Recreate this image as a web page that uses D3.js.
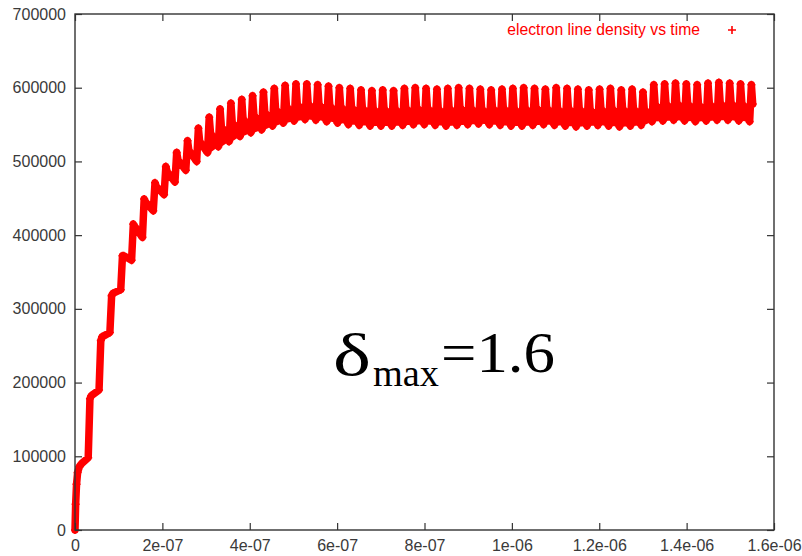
<!DOCTYPE html>
<html><head><meta charset="utf-8">
<script src="https://cdn.jsdelivr.net/npm/d3@7/dist/d3.min.js"></script>
<style>html,body{margin:0;padding:0;background:#fff;}svg{display:block;}</style>
</head><body>
<svg id="chart" width="802" height="556"></svg>
<script>
// ---------------- data ----------------
const xTicks = [0, 2e-7, 4e-7, 6e-7, 8e-7, 1e-6, 1.2e-6, 1.4e-6, 1.6e-6];
const xTickLabels = ["0", "2e-07", "4e-07", "6e-07", "8e-07", "1e-06", "1.2e-06", "1.4e-06", "1.6e-06"];
const yTicks = [0, 100000, 200000, 300000, 400000, 500000, 600000, 700000];
const yTickLabels = ["0", "100000", "200000", "300000", "400000", "500000", "600000", "700000"];
const legendLabel = "electron line density vs time";
const annotationSymbol = "δ";
const annotationSub = "max";
const annotationRest = "=1.6";

// initial build-up during the first bunch (time in ns, line density)
const initialTimesNs = [0, 1.5, 3.5, 6, 10, 15];
const initialValues = [0, 35000, 62000, 78000, 86000, 90000];

// later bunch passages (bunch 1 .. 62)
const firstBunchNs = 8.4;
const bunchSpacingNs = 24.82;
const bunchPhaseNs = [-3, 1, 4];   // trough, peak, post-peak sample times relative to each bunch
const troughValues = [
  98000, 190000, 268000, 326000, 366000, 397000, 433000, 455000, 472000, 488000,
  500000, 512000, 520000, 527000, 534000, 539000, 543000, 548000, 552000, 555000,
  557000, 556000, 554000, 552000, 550000, 549000, 548000, 548000, 548000, 549000,
  550000, 550000, 549000, 548000, 549000, 550000, 551000, 550000, 549000, 548000,
  548000, 549000, 550000, 549000, 548000, 547000, 548000, 549000, 548000, 547000,
  548000, 549000, 554000, 555000, 556000, 555000, 554000, 555000, 556000, 556000,
  555000, 554000];
const peakValues = [
  178000, 257000, 318000, 372000, 415000, 449000, 471000, 493000, 512000, 528000,
  545000, 560000, 571000, 579000, 584000, 589000, 594000, 599000, 603000, 605000,
  605000, 604000, 602000, 600000, 599000, 597000, 596000, 597000, 596000, 599000,
  600000, 599000, 598000, 599000, 600000, 599000, 598000, 597000, 598000, 599000,
  600000, 599000, 598000, 600000, 599000, 598000, 597000, 598000, 599000, 597000,
  598000, 594000, 604000, 605000, 606000, 605000, 604000, 606000, 607000, 606000,
  605000, 604000];
const postValues = [
  182000, 262000, 321000, 372000, 412000, 445000, 466000, 486000, 502000, 515000,
  527000, 538000, 547000, 553000, 558000, 563000, 567000, 571000, 575000, 578000,
  579000, 578000, 576000, 575000, 574000, 573000, 572000, 572000, 572000, 573000,
  574000, 573000, 572000, 573000, 574000, 573000, 572000, 573000, 573000, 572000,
  573000, 574000, 573000, 572000, 573000, 572000, 571000, 572000, 573000, 572000,
  572000, 571000, 578000, 579000, 580000, 579000, 578000, 579000, 580000, 580000,
  579000, 578000];
const firstSolidBunch = 12;   // from this bunch on the band between bunches is filled

// ---------------- chart ----------------
const svg = d3.select("#chart");
const x = d3.scaleLinear().domain([0, 1.6e-6]).range([75, 774]);
const y = d3.scaleLinear().domain([0, 700000]).range([530, 14]);

const series = [];
initialTimesNs.forEach((t, i) => series.push({t: t * 1e-9, v: initialValues[i]}));
const body = [];
troughValues.forEach((tv, i) => {
  const k = i + 1;
  const tk = firstBunchNs + k * bunchSpacingNs;
  series.push({t: (tk + bunchPhaseNs[0]) * 1e-9, v: tv});
  series.push({t: (tk + bunchPhaseNs[1]) * 1e-9, v: peakValues[i]});
  series.push({t: (tk + bunchPhaseNs[2]) * 1e-9, v: postValues[i]});
  if (k >= firstSolidBunch) {
    body.push({t: (tk + bunchPhaseNs[0]) * 1e-9, lo: tv, hi: i > 0 ? Math.min(postValues[i - 1], tv + 25000) : tv});
    body.push({t: (tk + bunchPhaseNs[2]) * 1e-9, lo: tv, hi: postValues[i]});
  }
});

const red = "#ff0000";
const frameColor = "#333";
const fontAxis = "'Liberation Sans', Arial, sans-serif";

// filled body of the oscillating band
svg.append("path")
  .datum(body)
  .attr("fill", red)
  .attr("d", d3.area().x(d => x(d.t)).y0(d => y(d.lo)).y1(d => y(d.hi)));

// data band
svg.append("path")
  .datum(series)
  .attr("fill", "none")
  .attr("stroke", red)
  .attr("stroke-width", 7.5)
  .attr("stroke-linejoin", "round")
  .attr("stroke-linecap", "round")
  .attr("d", d3.line().x(d => x(d.t)).y(d => y(d.v)));

const plus = "M-4,0H4M0,-4V4";
svg.append("g").selectAll("path")
  .data(series)
  .join("path")
  .attr("transform", d => `translate(${x(d.t)},${y(d.v)})`)
  .attr("d", plus)
  .attr("stroke", red)
  .attr("stroke-width", 1.6)
  .attr("fill", "none");

// axes
function styleAxis(g) {
  g.select(".domain").remove();
  g.selectAll(".tick line").attr("stroke", frameColor).attr("stroke-width", 1.2);
  g.selectAll(".tick text").attr("fill", "#3a3a3a").style("font-family", fontAxis).style("font-size", "16px");
}
svg.append("g").attr("transform", "translate(75,0)")
  .call(d3.axisLeft(y).tickValues(yTicks).tickFormat((d, i) => yTickLabels[i]).tickSizeInner(-7).tickSizeOuter(0).tickPadding(9))
  .call(styleAxis);
svg.append("g").attr("transform", "translate(774,0)")
  .call(d3.axisRight(y).tickValues(yTicks).tickFormat("").tickSizeInner(-7).tickSizeOuter(0))
  .call(styleAxis);
svg.append("g").attr("transform", "translate(0,530)")
  .call(d3.axisBottom(x).tickValues(xTicks).tickFormat((d, i) => xTickLabels[i]).tickSizeInner(-7).tickSizeOuter(0).tickPadding(10))
  .call(styleAxis);
svg.append("g").attr("transform", "translate(0,14)")
  .call(d3.axisTop(x).tickValues(xTicks).tickFormat("").tickSizeInner(-7).tickSizeOuter(0))
  .call(styleAxis);

// frame
svg.append("rect")
  .attr("x", 75).attr("y", 14).attr("width", 774 - 75).attr("height", 530 - 14)
  .attr("fill", "none").attr("stroke", frameColor).attr("stroke-width", 1.4);

// legend
svg.append("text")
  .attr("x", 700).attr("y", 31)
  .attr("text-anchor", "end").attr("dominant-baseline", "middle")
  .attr("fill", red)
  .style("font-family", fontAxis).style("font-size", "15.7px")
  .text(legendLabel);
svg.append("path")
  .attr("transform", "translate(732,30)")
  .attr("d", plus).attr("stroke", red).attr("stroke-width", 1.6);

// annotation
const serif = "'Liberation Serif', 'Times New Roman', serif";
svg.append("text").attr("x", 333).attr("y", 375)
  .attr("textLength", 38).attr("lengthAdjust", "spacingAndGlyphs")
  .style("font-family", serif).style("font-size", "60px").attr("fill", "#000")
  .text(annotationSymbol);
svg.append("text").attr("x", 373).attr("y", 386)
  .attr("textLength", 66).attr("lengthAdjust", "spacingAndGlyphs")
  .style("font-family", serif).style("font-size", "38px").attr("fill", "#000")
  .text(annotationSub);
svg.append("text").attr("x", 441).attr("y", 372)
  .attr("textLength", 114).attr("lengthAdjust", "spacingAndGlyphs")
  .style("font-family", serif).style("font-size", "58px").attr("fill", "#000")
  .text(annotationRest);
</script>
</body></html>
